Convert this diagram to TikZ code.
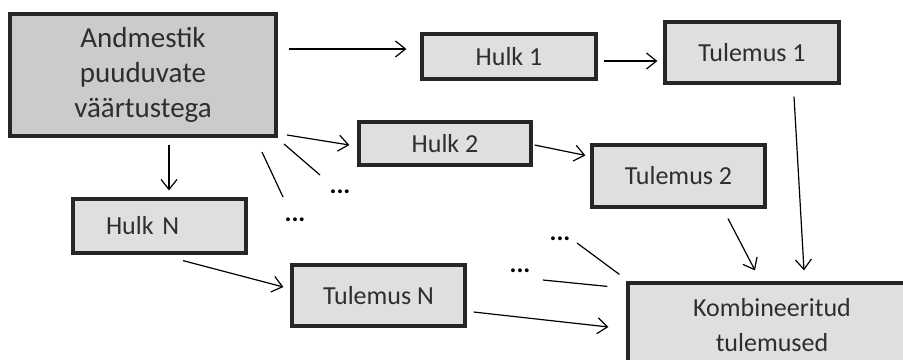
\documentclass[tikz,border=0pt]{standalone}
\usepackage{fontspec}
\setmainfont{Carlito}
\usetikzlibrary{arrows.meta,calc}

\definecolor{headgray}{HTML}{CBCBCD}
\definecolor{boxgray}{HTML}{DFDFDF}
\definecolor{txtgray}{HTML}{2E2E2E}

\tikzset{
  box/.style={draw=black!85, line width=1.6pt, fill=boxgray, text=txtgray,
    font=\fontsize{13}{17.5}\selectfont, align=center, inner sep=0pt},
  conn/.style={-{Straight Barb[length=5pt,width=8pt]}, line width=0.6pt},
  tick/.style={line width=0.6pt},
  dots/.style={font=\bfseries\fontsize{13}{15}\selectfont, anchor=base, inner sep=0pt}
}

\begin{document}
\begin{tikzpicture}[x=0.5pt, y=-0.5pt]
\useasboundingbox (0,0) rectangle (903,359);
\clip (0,0) rectangle (903,359);
% boxes
\node [box, fill=headgray, line width=2pt, minimum width=133pt, minimum height=61pt,
  font=\fontsize{14.5}{17.5}\selectfont] (andm) at (143,75) {Andmestik\\puuduvate\\väärtustega};
\node [box, minimum width=87pt, minimum height=22.5pt] (hulkA) at (509,56.5) {Hulk 1};
\node [box, minimum width=87pt, minimum height=30.5pt] (tulA) at (752,52.5) {Tulemus 1};
\node [box, minimum width=86pt, minimum height=21.5pt] (hulkB) at (445,143.5) {Hulk 2};
\node [box, minimum width=86.5pt, minimum height=31pt] (tulB) at (678.5,176) {Tulemus 2};
\node [box, minimum height=27pt, text width=53.5pt, align=left, inner xsep=16.5pt] (hulkN) at (159.5,226) {Hulk N};
\node [box, minimum width=86.5pt, minimum height=30.5pt] (tulN) at (378.5,295.5) {Tulemus N};
\node [box, minimum width=144pt, minimum height=42.5pt] (komb) at (772,325.5) {Kombineeritud\\tulemused};
% dots
\node [dots] (dotsA) at (340,193) {...};
\node [dots] (dotsB) at (295,221) {...};
\node [dots] (dotsC) at (560,240) {...};
\node [dots] (dotsD) at (520,272) {...};
% arrows
\draw [conn] ($(andm.east)+(11,-26)$) -- ($(hulkA.west)+(-14,-7.5)$);
\draw [conn] ($(hulkA.east)+(6,4.5)$) -- ($(tulA.west)+(-6,8.5)$);
\draw [conn] ($(andm.south east)+(9,-3)$) -- ($(hulkB.west)+(-8,1.5)$);
\draw [conn] ($(hulkB.east)+(2,1.5)$) -- ($(tulB.north west)+(-5,12)$);
\draw [conn] ($(andm.south)+(26,7)$) -- ($(hulkN.north)+(9.5,-7)$);
\draw [conn] ($(hulkN.south)+(23.5,6)$) -- ($(tulN.west)+(-7,-8.5)$);
\draw [conn] ($(tulN.east)+(7,16.5)$) -- ($(komb.west)+(-18,1.5)$);
\draw [conn] ($(tulB.south)+(49.5,10)$) -- ($(komb.north)+(-17,-11)$);
\draw [conn] ($(tulA.south)+(42,12)$) -- ($(komb.north)+(32,-11)$);
% lines to the dots
\draw [tick] ($(andm.south east)+(-16,14)$) -- ($(dotsB.base)+(-12,-24)$);
\draw [tick] ($(andm.south east)+(6,6)$) -- ($(dotsA.base)+(-20,-18)$);
\draw [tick] ($(dotsC.base)+(17,3)$) -- ($(komb.north west)+(-7,-7)$);
\draw [tick] ($(dotsD.base)+(23,8)$) -- ($(komb.north west)+(-19,5)$);
\end{tikzpicture}
\end{document}
